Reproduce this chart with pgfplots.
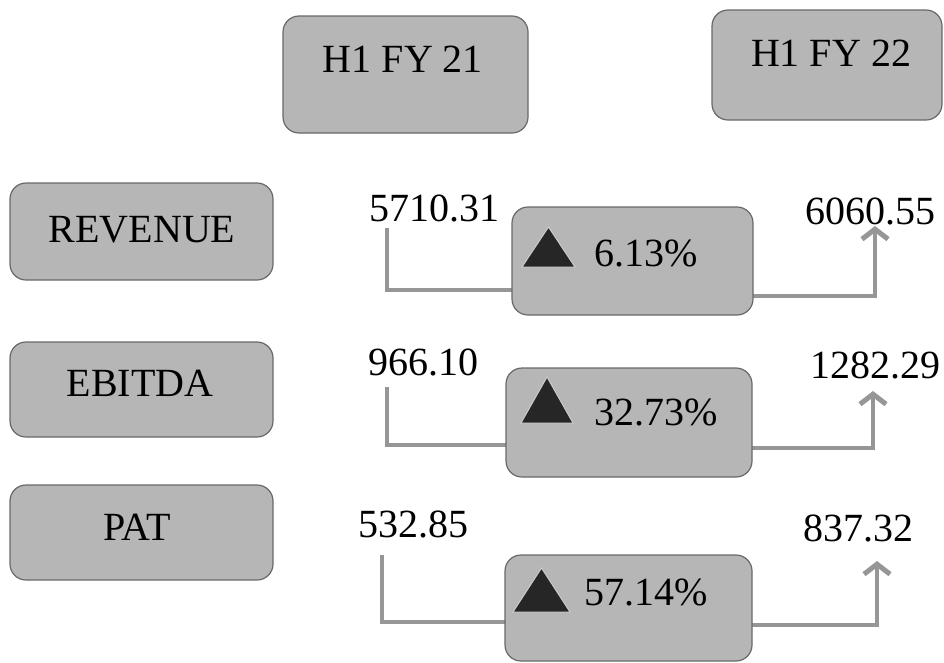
\documentclass[border=0pt]{standalone}
\usepackage{fontspec}
\setmainfont{Liberation Serif}
\usepackage{pgfplots}
\pgfplotsset{compat=1.18}
\usetikzlibrary{arrows.meta}
\definecolor{boxfill}{RGB}{182,182,182}
\definecolor{boxedge}{RGB}{105,105,105}
\definecolor{conn}{RGB}{150,150,150}
\definecolor{tri}{RGB}{38,38,38}
\begin{document}
\begin{tikzpicture}
\begin{axis}[
  width=944pt, height=662pt, scale only axis,
  xmin=0, xmax=944, ymin=0, ymax=662, y dir=reverse,
  hide axis, clip=false,
]
% ---- header boxes
\draw[fill=boxfill, draw=boxedge, line width=1.2pt, rounded corners=16pt] (283,16) rectangle (528,133);
\draw[fill=boxfill, draw=boxedge, line width=1.2pt, rounded corners=16pt] (712,10) rectangle (942,120);
\node[font=\fontsize{40}{48}\selectfont, inner sep=0pt] at (403,59) {H1 FY 21};
\node[font=\fontsize{40}{48}\selectfont, inner sep=0pt] at (831,53) {H1 FY 22};
% ---- row label boxes
\draw[fill=boxfill, draw=boxedge, line width=1.2pt, rounded corners=16pt] (10,183) rectangle (273,280);
\draw[fill=boxfill, draw=boxedge, line width=1.2pt, rounded corners=16pt] (10,342) rectangle (273,437);
\draw[fill=boxfill, draw=boxedge, line width=1.2pt, rounded corners=16pt] (10,485) rectangle (273,580);
\node[font=\fontsize{40}{48}\selectfont, inner sep=0pt] at (142,230) {REVENUE};
\node[font=\fontsize{40}{48}\selectfont, inner sep=0pt] at (140,383) {EBITDA};
\node[font=\fontsize{40}{48}\selectfont, inner sep=0pt] at (137,527) {PAT};
% ---- connectors (left)
\addplot[conn, line width=4pt, mark=none] coordinates {(387,228) (387,290) (512,290)};
\addplot[conn, line width=4pt, mark=none] coordinates {(387,387) (387,445) (506,445)};
\addplot[conn, line width=4pt, mark=none] coordinates {(382,555) (382,622) (505,622)};
% ---- connectors (right, arrows)
\addplot[conn, line width=4pt, mark=none, -{Straight Barb[length=10pt,width=26pt,line width=5pt]}] coordinates {(753,296) (875,296) (875,226)};
\addplot[conn, line width=4pt, mark=none, -{Straight Barb[length=10pt,width=26pt,line width=5pt]}] coordinates {(750,448) (873,448) (873,391)};
\addplot[conn, line width=4pt, mark=none, -{Straight Barb[length=10pt,width=26pt,line width=5pt]}] coordinates {(752,625) (877,625) (877,561)};
% ---- change boxes
\draw[fill=boxfill, draw=boxedge, line width=1.2pt, rounded corners=16pt] (512,207) rectangle (753,315);
\draw[fill=boxfill, draw=boxedge, line width=1.2pt, rounded corners=16pt] (506,368) rectangle (752,477);
\draw[fill=boxfill, draw=boxedge, line width=1.2pt, rounded corners=16pt] (505,555) rectangle (752,661);
% ---- up triangles
\addplot[fill=tri, draw=white!80!black, line width=1pt, mark=none] coordinates {(522,267) (548.5,227) (575,267)} -- cycle;
\addplot[fill=tri, draw=white!80!black, line width=1pt, mark=none] coordinates {(521,423) (547,377) (573,423)} -- cycle;
\addplot[fill=tri, draw=white!80!black, line width=1pt, mark=none] coordinates {(513,612) (541.5,568) (570,612)} -- cycle;
% ---- change percentages
\node[font=\fontsize{40}{48}\selectfont, inner sep=0pt] at (646,253) {6.13\%};
\node[font=\fontsize{40}{48}\selectfont, inner sep=0pt] at (656,412) {32.73\%};
\node[font=\fontsize{40}{48}\selectfont, inner sep=0pt] at (646,592) {57.14\%};
% ---- values
\node[font=\fontsize{40}{48}\selectfont, inner sep=0pt] at (434,208) {5710.31};
\node[font=\fontsize{40}{48}\selectfont, inner sep=0pt] at (870,211) {6060.55};
\node[font=\fontsize{40}{48}\selectfont, inner sep=0pt] at (423,362) {966.10};
\node[font=\fontsize{40}{48}\selectfont, inner sep=0pt] at (875,365) {1282.29};
\node[font=\fontsize{40}{48}\selectfont, inner sep=0pt] at (413,524) {532.85};
\node[font=\fontsize{40}{48}\selectfont, inner sep=0pt] at (858,528) {837.32};
\end{axis}
\pgfresetboundingbox
\path (current axis.south west) rectangle (current axis.north east);
\end{tikzpicture}
\end{document}
